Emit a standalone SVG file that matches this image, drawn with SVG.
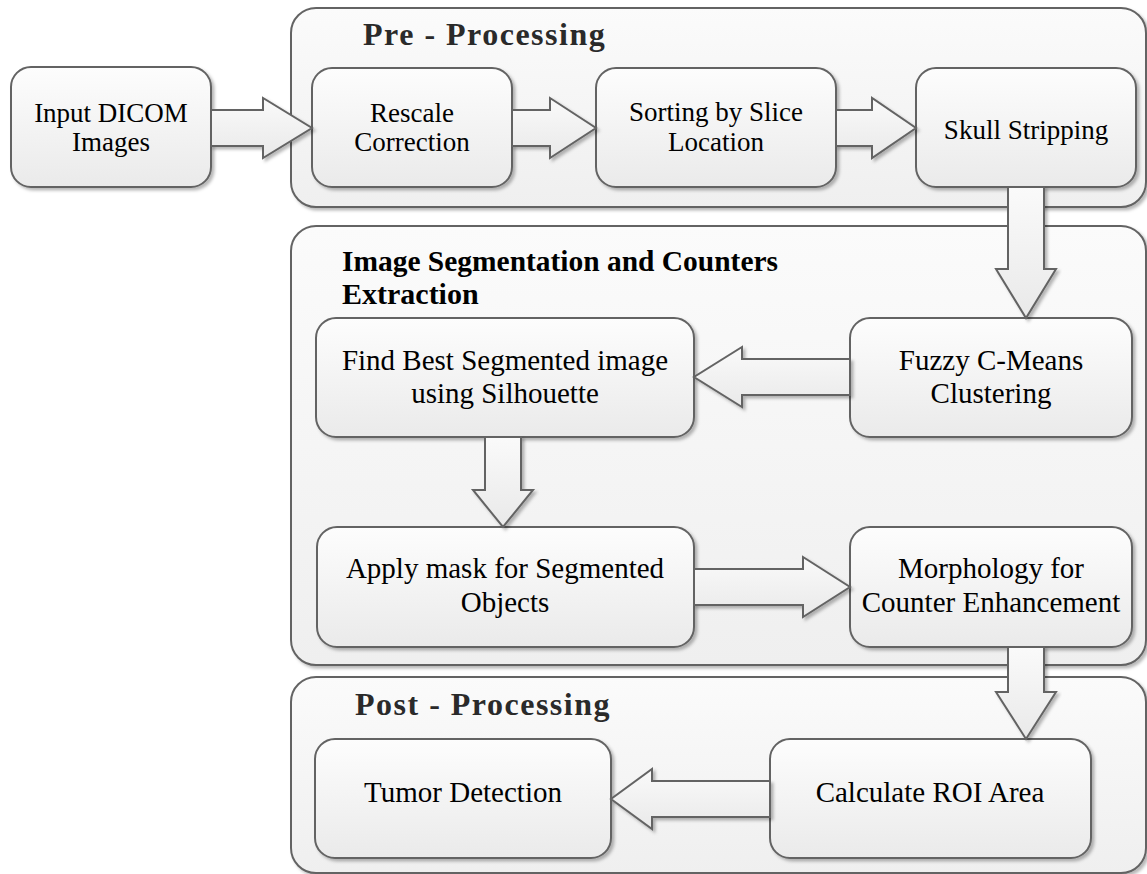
<svg xmlns="http://www.w3.org/2000/svg" width="1147" height="874" viewBox="0 0 1147 874">
  <defs>
    <linearGradient id="boxFill" x1="0" y1="0" x2="0" y2="1">
      <stop offset="0" stop-color="#fdfdfd"/>
      <stop offset="1" stop-color="#eaeaea"/>
    </linearGradient>
    <linearGradient id="panelFill" x1="0" y1="0" x2="0" y2="1">
      <stop offset="0" stop-color="#fbfbfb"/>
      <stop offset="1" stop-color="#efefef"/>
    </linearGradient>
    <linearGradient id="arrowFill" x1="0" y1="0" x2="0" y2="1">
      <stop offset="0" stop-color="#fafafa"/>
      <stop offset="1" stop-color="#e9e9e9"/>
    </linearGradient>
    <filter id="shadow" x="-5%" y="-5%" width="115%" height="120%">
      <feDropShadow dx="2.5" dy="2.5" stdDeviation="1.5" flood-color="#000" flood-opacity="0.28"/>
    </filter>
  </defs>
  <style>
    .panel { fill: url(#panelFill); stroke: #646464; stroke-width: 2; filter: url(#shadow); }
    .box { fill: url(#boxFill); stroke: #646464; stroke-width: 2; filter: url(#shadow); }
    .arrow { fill: url(#arrowFill); stroke: #646464; stroke-width: 2; stroke-linejoin: miter; filter: url(#shadow); }
    .label { font-family: "Liberation Serif", "Times New Roman", serif; font-size: 29px; fill: #000; text-anchor: middle; }
    .small { font-size: 27px; }
    .title { font-family: "Liberation Serif", "Times New Roman", serif; font-size: 32px; font-weight: bold; fill: #2a2a2a; letter-spacing: 1.5px; }
    .title2 { font-family: "Liberation Serif", "Times New Roman", serif; font-size: 30px; font-weight: bold; fill: #000; }
  </style>

  <rect width="1147" height="874" fill="#ffffff"/>

  <!-- stage panels -->
  <g id="pre-processing">
    <rect class="panel" x="291" y="8" width="855" height="199" rx="25" ry="25"/>
    <text class="title" x="363" y="45">Pre - Processing</text>
  </g>
  <g id="segmentation">
    <rect class="panel" x="291" y="226" width="855" height="439" rx="25" ry="25"/>
    <text class="title2" x="342" y="271" textLength="436" lengthAdjust="spacingAndGlyphs">Image Segmentation and Counters</text>
    <text class="title2" x="342" y="304">Extraction</text>
  </g>
  <g id="post-processing">
    <rect class="panel" x="291" y="677" width="855" height="196" rx="25" ry="25"/>
    <text class="title" x="355" y="715">Post - Processing</text>
  </g>

  <!-- process steps -->
  <g id="input">
    <rect class="box" x="11" y="67" width="200" height="120" rx="20" ry="20"/>
    <text class="label small" x="111" y="122">Input DICOM</text>
    <text class="label small" x="111" y="151">Images</text>
  </g>
  <g id="rescale">
    <rect class="box" x="312" y="68" width="200" height="119" rx="20" ry="20"/>
    <text class="label small" x="412" y="122">Rescale</text>
    <text class="label small" x="412" y="151">Correction</text>
  </g>
  <g id="sorting">
    <rect class="box" x="596" y="68" width="240" height="119" rx="20" ry="20"/>
    <text class="label small" x="716" y="121">Sorting by Slice</text>
    <text class="label small" x="716" y="151">Location</text>
  </g>
  <g id="skull">
    <rect class="box" x="916" y="68" width="220" height="119" rx="20" ry="20"/>
    <text class="label small" x="1026" y="139">Skull Stripping</text>
  </g>
  <g id="fuzzy">
    <rect class="box" x="850" y="318" width="282" height="119" rx="20" ry="20"/>
    <text class="label" x="991" y="370">Fuzzy C-Means</text>
    <text class="label" x="991" y="403">Clustering</text>
  </g>
  <g id="best-segment">
    <rect class="box" x="316" y="318" width="378" height="119" rx="20" ry="20"/>
    <text class="label" x="505" y="370">Find Best Segmented image</text>
    <text class="label" x="505" y="403">using Silhouette</text>
  </g>
  <g id="apply-mask">
    <rect class="box" x="317" y="527" width="377" height="120" rx="20" ry="20"/>
    <text class="label" x="505" y="578">Apply mask for Segmented</text>
    <text class="label" x="505" y="612">Objects</text>
  </g>
  <g id="morphology">
    <rect class="box" x="850" y="527" width="282" height="120" rx="20" ry="20"/>
    <text class="label" x="991" y="578">Morphology for</text>
    <text class="label" x="991" y="612">Counter Enhancement</text>
  </g>
  <g id="tumor">
    <rect class="box" x="315" y="739" width="296" height="119" rx="20" ry="20"/>
    <text class="label" x="463" y="802">Tumor Detection</text>
  </g>
  <g id="roi-area">
    <rect class="box" x="770" y="739" width="321" height="119" rx="20" ry="20"/>
    <text class="label" x="930" y="802">Calculate ROI Area</text>
  </g>

  <!-- block arrows between steps -->
  <g id="connectors">
    <polygon class="arrow" points="211,110 263,110 263,98 312,128 263,158 263,146 211,146"/>
    <polygon class="arrow" points="512,110 550,110 550,98 596,128 550,158 550,146 512,146"/>
    <polygon class="arrow" points="836,110 872,110 872,98 916,128 872,158 872,146 836,146"/>
    <polygon class="arrow" points="1008,187 1044,187 1044,269 1056,269 1026,318 996,269 1008,269"/>
    <polygon class="arrow" points="850,359 742,359 742,347 694,377 742,407 742,395 850,395"/>
    <polygon class="arrow" points="485,437 521,437 521,490 533,490 503,527 473,490 485,490"/>
    <polygon class="arrow" points="694,569 803,569 803,557 850,587 803,617 803,605 694,605"/>
    <polygon class="arrow" points="1008,647 1044,647 1044,692 1056,692 1026,739 996,692 1008,692"/>
    <polygon class="arrow" points="770,781 652,781 652,769 611,799 652,829 652,817 770,817"/>
  </g>
</svg>
